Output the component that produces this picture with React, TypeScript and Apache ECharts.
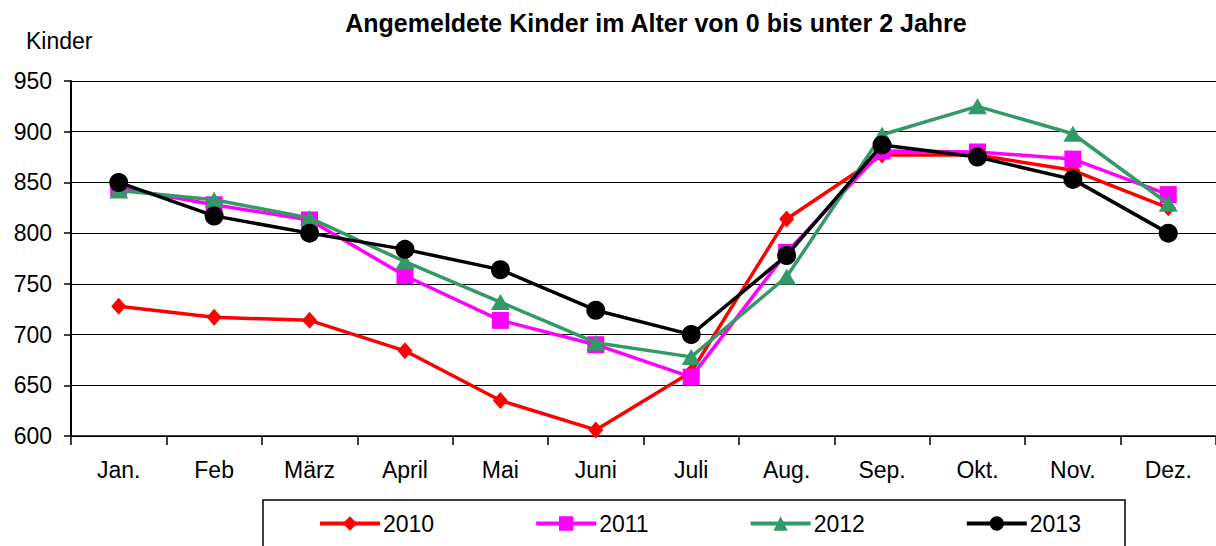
import React, { useEffect, useRef } from "react";
import * as echarts from "echarts";

const months = ["Jan.", "Feb", "März", "April", "Mai", "Juni", "Juli", "Aug.", "Sep.", "Okt.", "Nov.", "Dez."];
const values2010 = [728, 717, 714, 684, 635, 606, 663, 814, 877, 877, 862, 825];
const values2011 = [845, 828, 813, 758, 714, 690, 658, 781, 881, 880, 873, 838];
const values2012 = [842, 833, 815, 772, 732, 692, 678, 757, 897, 925, 898, 829];
const values2013 = [850, 817, 800, 784, 764, 724, 700, 778, 887, 875, 853, 800];
const seriesNames = ["2010", "2011", "2012", "2013"];
const seriesColors = ["#FF0000", "#FF00FF", "#339966", "#000000"];
const seriesSymbols = ["diamond", "rect", "triangle", "circle"];
const symbolSizes: any[] = [[15, 17], 17, [19, 16], 19];

const FONT = "'Liberation Sans', Arial, sans-serif";

export default function App() {
  const ref = useRef<HTMLDivElement>(null);
  useEffect(() => {
    if (!ref.current) return;
    const chart = echarts.init(ref.current, null, { renderer: "svg" });
    const data = [values2010, values2011, values2012, values2013];
    chart.setOption({
      animation: false,
      backgroundColor: "#ffffff",
      textStyle: { fontFamily: FONT },
      title: {
        text: "Angemeldete Kinder im Alter von 0 bis unter 2 Jahre",
        left: 651,
        top: 5,
        textAlign: "center",
        textStyle: { fontFamily: FONT, fontSize: 25, fontWeight: "bold", color: "#000" },
      },
      graphic: [
        {
          type: "text",
          left: 26,
          top: 29,
          style: { text: "Kinder", fontFamily: FONT, fontSize: 23, fill: "#000" },
        },
        {
          type: "rect",
          shape: { x: 263, y: 500, width: 862, height: 60 },
          style: { fill: "none", stroke: "#000", lineWidth: 1.5 },
          z: 10,
        },
      ],
      legend: {
        left: 313,
        top: 507,
        itemWidth: 60,
        itemHeight: 18,
        itemGap: 100,
        lineStyle: { width: 4 },
        textStyle: { fontFamily: FONT, fontSize: 23, color: "#000", padding: [0, 0, 0, -2] },
        data: seriesNames,
      },
      grid: { left: 71, right: -4, top: 81, bottom: 110, containLabel: false },
      xAxis: {
        type: "category",
        data: months,
        boundaryGap: true,
        axisLine: { lineStyle: { color: "#000", width: 1.5 } },
        axisTick: { show: true, length: 9, lineStyle: { color: "#000", width: 1.5 } },
        axisLabel: { fontFamily: FONT, fontSize: 23, color: "#000", margin: 22 },
      },
      yAxis: {
        type: "value",
        min: 600,
        max: 950,
        interval: 50,
        axisLine: { show: true, lineStyle: { color: "#000", width: 2 } },
        axisTick: { show: true, length: 7, lineStyle: { color: "#000", width: 1.5 } },
        axisLabel: { fontFamily: FONT, fontSize: 23, color: "#000", margin: 19 },
        splitLine: { show: true, lineStyle: { color: "#000", width: 1 } },
      },
      series: seriesNames.map((name, i) => ({
        name,
        type: "line",
        data: data[i],
        symbol: seriesSymbols[i],
        symbolSize: symbolSizes[i],
        showAllSymbol: true,
        color: seriesColors[i],
        lineStyle: { color: seriesColors[i], width: 3.5 },
        itemStyle: { color: seriesColors[i] },
        z: 2 + i,
      })),
    });
    return () => chart.dispose();
  }, []);
  return (
    <div
      ref={ref}
      style={{ position: "absolute", left: 0, top: 0, width: 1216, height: 546 }}
    />
  );
}
